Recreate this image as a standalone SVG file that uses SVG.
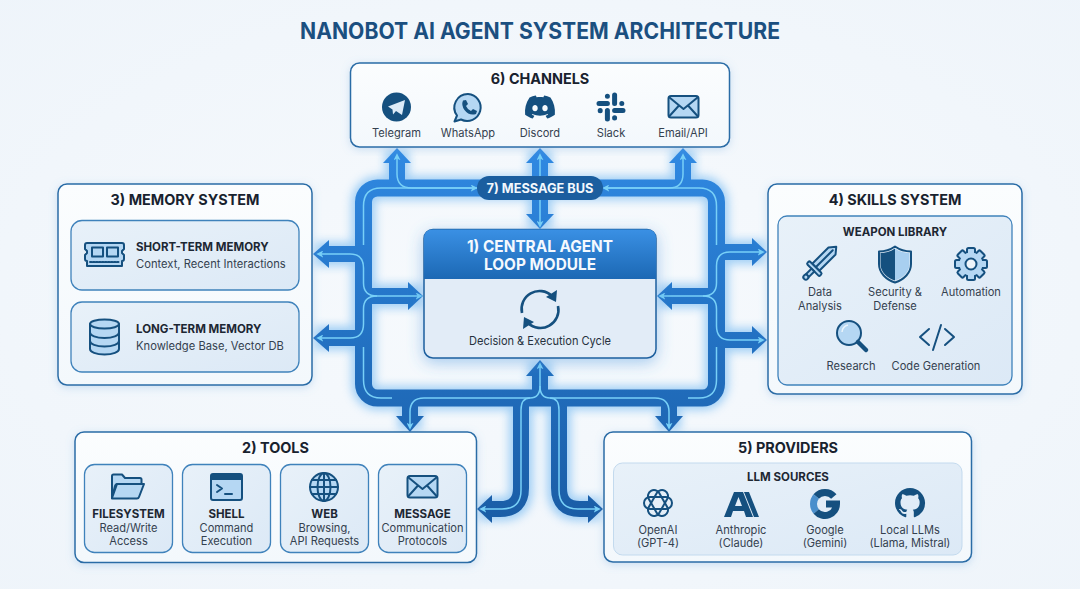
<svg xmlns="http://www.w3.org/2000/svg" xmlns:xlink="http://www.w3.org/1999/xlink" width="1080" height="589" viewBox="0 0 1080 589">
<style>
text{font-family:Inter,"Liberation Sans",sans-serif;text-anchor:middle}
.title{font-size:22.5px;font-weight:700;fill:#1b4f80}
.h{font-size:14.4px;font-weight:700;fill:#18222e}
.b{font-size:11.5px;font-weight:700;fill:#1d2733}
.t{font-size:11.1px;fill:#34414f}
.l{text-anchor:start}
.box{fill:url(#boxFill);stroke:#2a6ca6;stroke-width:1.5;filter:url(#shadow)}
.inner{fill:url(#innerFill);stroke:#3f82bb;stroke-width:1.3}
.ic{fill:#b5d7f3;stroke:#15507f;stroke-width:2;stroke-linejoin:round;stroke-linecap:round}
.in{fill:none;stroke:#15507f;stroke-width:2;stroke-linejoin:round;stroke-linecap:round}
.d{fill:#15507f}
.pipe{fill:none;stroke:url(#flow);stroke-width:16}
.ring{fill:none;stroke:url(#flow);stroke-width:17}
.head{fill:url(#flow)}
.glowline{fill:none;stroke:#4da6ee;stroke-width:24;opacity:.5;filter:url(#glow)}
.lite{fill:none;stroke:#78d0f7;stroke-width:1.5}
.arr{marker-end:url(#tip)}
.arr2{marker-start:url(#tip);marker-end:url(#tip)}
</style>
<defs>
<radialGradient id="bg" cx="50%" cy="50%" r="75%"><stop offset="0" stop-color="#f7fafd"/><stop offset="1" stop-color="#eef4fa"/></radialGradient>
<linearGradient id="boxFill" x1="0" y1="0" x2="0" y2="1"><stop offset="0" stop-color="#fbfdfe"/><stop offset="1" stop-color="#f3f8fc"/></linearGradient>
<linearGradient id="innerFill" x1="0" y1="0" x2="1" y2="1"><stop offset="0" stop-color="#e8f1f9"/><stop offset="1" stop-color="#dce9f6"/></linearGradient>
<linearGradient id="flow" gradientUnits="userSpaceOnUse" x1="0" y1="150" x2="0" y2="520"><stop offset="0" stop-color="#3089e2"/><stop offset=".45" stop-color="#2474c6"/><stop offset="1" stop-color="#1a5da6"/></linearGradient>
<linearGradient id="hdr" x1="0" y1="0" x2="0" y2="1"><stop offset="0" stop-color="#3a90e4"/><stop offset="1" stop-color="#1c68b4"/></linearGradient>
<filter id="shadow" x="-10%" y="-10%" width="120%" height="120%"><feDropShadow dx="0" dy="2" stdDeviation="4" flood-color="#6ba6dc" flood-opacity=".3"/></filter>
<filter id="glow" x="-20%" y="-20%" width="140%" height="140%"><feGaussianBlur stdDeviation="5"/></filter>
<filter id="cshadow" x="-20%" y="-20%" width="140%" height="140%"><feDropShadow dx="0" dy="4" stdDeviation="8" flood-color="#3f8fdc" flood-opacity=".45"/></filter>
<marker id="tip" viewBox="0 0 8 8" refX="6" refY="4" markerWidth="7" markerHeight="7" markerUnits="userSpaceOnUse" orient="auto-start-reverse"><path d="M0 0L8 4L0 8L2 4Z" fill="#78d0f7"/></marker>
<g id="env"><rect class="ic" x="0" y="0" width="30" height="21.5" rx="2.5"/><path class="in" d="M1 1.5L15 13L29 1.5M1 20L10.5 9.5M29 20L19.5 9.5" stroke-width="1.6"/></g>
</defs>
<rect width="1080" height="589" fill="url(#bg)"/>
<text class="title" x="540" y="38.500" textLength="480" lengthAdjust="spacingAndGlyphs">NANOBOT AI AGENT SYSTEM ARCHITECTURE</text>

<g id="connectors">
<g class="glowline">
<rect x="363.5" y="188" width="353" height="210" rx="14"/>
<path d="M397 150V188M683 150V188M540 150V229M410 398V430M669 398V430M540 362V398M315 254H363M315 338H363M363 296H422M716 252H765M716 340H765M716 296H658M521 398V490Q521 509 502 509H479M559 398V490Q559 509 578 509H601"/>
</g>
<rect class="ring" x="363.500" y="188" width="353" height="210" rx="14"/>
<path class="pipe" d="M397 162V188M683 162V188M540 162V214M410 398V417M669 398V417M540 376V398M329 254H364M329 338H364M364 296H408M716 252H752M716 340H752M716 296H672"/>
<path class="pipe" d="M521 398V488Q521 509 500 509H492M559 398V488Q559 509 580 509H588"/>
<polygon class="head" points="397,148 411,163 383,163"/>
<polygon class="head" points="540,148 554,163 526,163"/>
<polygon class="head" points="683,148 697,163 669,163"/>
<polygon class="head" points="540,229 554,214 526,214"/>
<polygon class="head" points="540,360 554,376 526,376"/>
<polygon class="head" points="410,432 424,416 396,416"/>
<polygon class="head" points="669,432 683,416 655,416"/>
<polygon class="head" points="313,254 329,240 329,268"/>
<polygon class="head" points="313,338 329,324 329,352"/>
<polygon class="head" points="423,296 408,282 408,310"/>
<polygon class="head" points="767,252 752,238 752,266"/>
<polygon class="head" points="767,340 752,326 752,354"/>
<polygon class="head" points="657,296 672,282 672,310"/>
<polygon class="head" points="477,509 492,495 492,523"/>
<polygon class="head" points="603,509 588,495 588,523"/>
<g>
<path class="lite arr2" d="M476 188H412Q397 188 397 174V155"/>
<path class="lite arr2" d="M604 188H669Q683 188 683 174V155"/>
<path class="lite arr" d="M540 176V155"/>
<path class="lite arr" d="M540 200V226"/>
<path class="lite" d="M477 188H381Q363.500 188 363.500 206V245"/>
<path class="lite" d="M604 188H699Q716.500 188 716.500 206V245"/>
<path class="lite arr2" d="M318 254H350Q363.500 254 363.500 268V283Q363.500 296 377 296H421"/>
<path class="lite arr" d="M377 296Q363.500 296 363.500 309V324Q363.500 338 350 338H318"/>
<path class="lite arr2" d="M763 252H730Q716.500 252 716.500 266V283Q716.500 296 703 296H660"/>
<path class="lite arr" d="M703 296Q716.500 296 716.500 309V326Q716.500 340 730 340H763"/>
<path class="lite" d="M363.500 347V380Q363.500 398 381 398H392"/>
<path class="lite" d="M716.500 347V380Q716.500 398 699 398H688"/>
<path class="lite arr" d="M540 386V364"/>
<path class="lite arr" d="M540 386Q540 398 530 398H424Q410 398 410 412V428"/>
<path class="lite arr" d="M540 386Q540 398 550 398H655Q669 398 669 412V428"/>
<path class="lite arr" d="M530 398Q521 398 521 410V490Q521 509 502 509H481"/>
<path class="lite arr" d="M550 398Q559 398 559 410V490Q559 509 578 509H599"/>
</g>
</g>

<g id="bus">
<rect x="477" y="176" width="126" height="24" rx="12" fill="#1b5e9f"/>
<text x="540" y="193" font-size="13" font-weight="700" fill="#f2f8fd" textLength="107" lengthAdjust="spacingAndGlyphs">7) MESSAGE BUS</text>
</g>

<g id="central">
<rect x="424" y="229.500" width="232" height="128.500" rx="9" fill="#e2ecf7" stroke="#1e5f9e" stroke-width="1.500" filter="url(#cshadow)"/>
<path d="M424 279V238.500Q424 229.500 433 229.500H647Q656 229.500 656 238.500V279Z" fill="url(#hdr)"/>
<text x="540" y="252" font-size="16" font-weight="700" fill="#f4f9fe" textLength="146" lengthAdjust="spacingAndGlyphs">1) CENTRAL AGENT</text>
<text x="540" y="270" font-size="16" font-weight="700" fill="#f4f9fe" textLength="112" lengthAdjust="spacingAndGlyphs">LOOP MODULE</text>
<path d="M522 313A18 18 0 0 1 552 296M558 306A18 18 0 0 1 528 323" fill="none" stroke="#15507f" stroke-width="2.600"/>
<polygon class="d" points="557,290 556,302 546,297"/>
<polygon class="d" points="523,329 524,317 534,322"/>
<text class="t" x="540" y="345" style="font-size:12px;fill:#26313d" textLength="142" lengthAdjust="spacingAndGlyphs">Decision &amp; Execution Cycle</text>
</g>

<g id="channels">
<rect class="box" x="350.500" y="63" width="379" height="84" rx="9"/>
<text class="h" x="540" y="83.500">6) CHANNELS</text>
<circle class="d" cx="396.500" cy="107" r="14.500"/>
<path d="M388 106.500L405 100L402 115L396 111L393 114.500L392.500 109.500Z" fill="#dcebf8"/>
<path d="M468 94A13.500 13.500 0 1 1 461 119.500L454.500 121.500L457 115.500A13.500 13.500 0 0 1 468 94Z" class="ic"/>
<path d="M463 100.500L466 100L468 104L466 106Q467.500 109.500 471 111L473 109L477 111L476 114Q469 116 464.500 110Q461 105 463 100.500Z" class="d"/>
<path class="d" transform="translate(525 92) scale(1.250)" d="M20.317 4.3698a19.7913 19.7913 0 00-4.8851-1.5152.0741.0741 0 00-.0785.0371c-.211.3753-.4447.8648-.6083 1.2495-1.8447-.2762-3.68-.2762-5.4868 0-.1636-.3933-.4058-.8742-.6177-1.2495a.077.077 0 00-.0785-.037 19.7363 19.7363 0 00-4.8852 1.515.0699.0699 0 00-.0321.0277C.5334 9.0458-.319 13.5799.0992 18.0578a.0824.0824 0 00.0312.0561c2.0528 1.5076 4.0413 2.4228 5.9929 3.0294a.0777.0777 0 00.0842-.0276c.4616-.6304.8731-1.2952 1.226-1.9942a.076.076 0 00-.0416-.1057c-.6528-.2476-1.2743-.5495-1.8722-.8923a.077.077 0 01-.0076-.1277c.1258-.0943.2517-.1923.3718-.2914a.0743.0743 0 01.0776-.0105c3.9278 1.7933 8.18 1.7933 12.0614 0a.0739.0739 0 01.0785.0095c.1202.099.246.1981.3728.2924a.077.077 0 01-.0066.1276 12.2986 12.2986 0 01-1.873.8914.0766.0766 0 00-.0407.1067c.3604.698.7719 1.3628 1.225 1.9932a.076.076 0 00.0842.0286c1.961-.6067 3.9495-1.5219 6.0023-3.0294a.077.077 0 00.0313-.0552c.5004-5.177-.8382-9.6739-3.5485-13.6604a.061.061 0 00-.0312-.0286zM8.02 15.3312c-1.1825 0-2.1569-1.0857-2.1569-2.419 0-1.3332.9555-2.4189 2.157-2.4189 1.2108 0 2.1757 1.0952 2.1568 2.419 0 1.3332-.9555 2.4189-2.1569 2.4189zm7.9748 0c-1.1825 0-2.1569-1.0857-2.1569-2.419 0-1.3332.9554-2.4189 2.1569-2.4189 1.2108 0 2.1757 1.0952 2.1568 2.419 0 1.3332-.946 2.4189-2.1568 2.4189Z"/>
<g fill="none" stroke="#15507f" stroke-width="5" stroke-linecap="round">
<path d="M599 103.400H607.400M614.600 95V103.400M614.600 110.600H623M607.400 110.600V119M607.400 96.200V96.300M621.800 103.400V103.500M614.600 117.800V117.900M600.200 110.600V110.700"/>
</g>
<use xlink:href="#env" href="#env" x="668.500" y="96"/>
<text class="t" x="396.500" y="136.500">Telegram</text>
<text class="t" x="468" y="136.500">WhatsApp</text>
<text class="t" x="540" y="136.500">Discord</text>
<text class="t" x="611" y="136.500">Slack</text>
<text class="t" x="683" y="136.500">Email/API</text>
</g>

<g id="memory">
<rect class="box" x="58" y="184" width="254" height="201" rx="9"/>
<text class="h" x="185" y="205">3) MEMORY SYSTEM</text>
<g id="short-term">
<rect class="inner" x="71" y="220.500" width="228" height="69.500" rx="11"/>
<path class="ic" d="M87 243H122Q124 243 124 245V249L122 251V253L124 255V259Q124 261 122 261V266H87V261Q85 261 85 259V255L87 253V251L85 249V245Q85 243 87 243Z"/>
<rect class="ic" x="92" y="247.500" width="11" height="9" stroke-width="1.500"/>
<rect class="ic" x="107" y="247.500" width="11" height="9" stroke-width="1.500"/>
<path class="in" d="M90 262H120" stroke-width="2.500" stroke-dasharray="1.500 1.500" stroke-linecap="butt"/>
<text class="b l" x="136" y="251">SHORT-TERM MEMORY</text>
<text class="t l" x="136" y="268" style="font-size:11.2px">Context, Recent Interactions</text>
</g>
<g id="long-term">
<rect class="inner" x="71" y="302" width="228" height="70" rx="11"/>
<path class="ic" d="M90 324V349C90 352 96 354.500 104.500 354.500S119 352 119 349V324Z"/>
<ellipse class="ic" cx="104.500" cy="324" rx="14.500" ry="4.500"/>
<path class="in" d="M90 332.500C90 335.500 96 338 104.500 338S119 335.500 119 332.500M90 341C90 344 96 346.500 104.500 346.500S119 344 119 341"/>
<text class="b l" x="136" y="333">LONG-TERM MEMORY</text>
<text class="t l" x="136" y="350" style="font-size:11.2px">Knowledge Base, Vector DB</text>
</g>
</g>

<g id="skills">
<rect class="box" x="768" y="184" width="254" height="210" rx="9"/>
<text class="h" x="895" y="205">4) SKILLS SYSTEM</text>
<rect class="inner" x="778" y="216" width="234" height="169" rx="9"/>
<text class="b" x="895" y="236">WEAPON LIBRARY</text>
<g transform="translate(820 263) rotate(45)">
<path class="ic" d="M0 -23L5 -17V6H-5V-17Z"/>
<path class="in" d="M0 -18V5" stroke-width="1.200"/>
<rect class="ic" x="-9" y="6" width="18" height="4" rx="1.500"/>
<rect class="ic" x="-2" y="10" width="4" height="8"/>
<circle class="ic" cx="0" cy="20" r="2.500"/>
</g>
<path d="M895 248.500C900 252 905 253 909.500 253V264C909.500 272 903 278 895 280.500Z" fill="#a8cff0"/>
<path class="d" d="M895 248.500C890 252 885 253 880.500 253V264C880.500 272 887 278 895 280.500Z"/>
<path class="in" d="M895 246.500C900 250 906 251.500 911 251.500V264C911 273 904 279.500 895 282.500C886 279.500 879 273 879 264V251.500C884 251.500 890 250 895 246.500Z"/>
<g transform="translate(971 264)">
<g fill="#b5d7f3" stroke="#15507f" stroke-width="2" stroke-linejoin="round">
<rect x="-4" y="-16" width="8" height="8" rx="1.500"/>
<rect x="-4" y="-16" width="8" height="8" rx="1.500" transform="rotate(45)"/>
<rect x="-4" y="-16" width="8" height="8" rx="1.500" transform="rotate(90)"/>
<rect x="-4" y="-16" width="8" height="8" rx="1.500" transform="rotate(135)"/>
<rect x="-4" y="-16" width="8" height="8" rx="1.500" transform="rotate(180)"/>
<rect x="-4" y="-16" width="8" height="8" rx="1.500" transform="rotate(225)"/>
<rect x="-4" y="-16" width="8" height="8" rx="1.500" transform="rotate(270)"/>
<rect x="-4" y="-16" width="8" height="8" rx="1.500" transform="rotate(315)"/>
</g>
<circle r="11.500" fill="#b5d7f3"/>
<circle r="5.500" fill="#eef5fb" stroke="#15507f" stroke-width="2"/>
</g>
<text class="t" x="820" y="296">Data</text>
<text class="t" x="820" y="309.500">Analysis</text>
<text class="t" x="895" y="296">Security &amp;</text>
<text class="t" x="895" y="309.500">Defense</text>
<text class="t" x="971" y="296">Automation</text>
<circle class="ic" cx="849" cy="333" r="12"/>
<path d="M858 342L866 350" stroke="#15507f" stroke-width="4.500" stroke-linecap="round"/>
<path d="M842 332A8 8 0 0 1 848 325" fill="none" stroke="#eaf4fb" stroke-width="1.500"/>
<path class="in" d="M929 329L920 337L929 345M945 329L954 337L945 345M941 325L933 350"/>
<text class="t" x="851" y="369.500">Research</text>
<text class="t" x="936" y="369.500">Code Generation</text>
</g>

<g id="tools">
<rect class="box" x="75" y="432" width="401.500" height="130.500" rx="9"/>
<text class="h" x="275.500" y="453">2) TOOLS</text>
<g id="filesystem">
<rect class="inner" x="84.500" y="464.500" width="88" height="88" rx="10"/>
<path class="ic" d="M112 498V476Q112 474.500 113.500 474.500H122L125 478H140Q141.500 478 141.500 479.500V484H117Q115.500 484 115 486L112 498Z"/>
<path class="ic" d="M112 498L117 484H144L139 497Q138.500 498.500 137 498.500H112Z"/>
<text class="b" x="128.500" y="517.500">FILESYSTEM</text>
<text class="t" x="128.500" y="531.500">Read/Write</text>
<text class="t" x="128.500" y="545">Access</text>
</g>
<g id="shell">
<rect class="inner" x="182.500" y="464.500" width="88" height="88" rx="10"/>
<rect class="ic" x="211" y="474" width="31" height="26" rx="2"/>
<path class="d" d="M211 476Q211 474 213 474H240Q242 474 242 476V480H211Z"/>
<path class="in" d="M217 485L222 488.500L217 492M225 494H232" stroke-width="1.600"/>
<text class="b" x="226.500" y="517.500">SHELL</text>
<text class="t" x="226.500" y="531.500">Command</text>
<text class="t" x="226.500" y="545">Execution</text>
</g>
<g id="web">
<rect class="inner" x="280.500" y="464.500" width="88" height="88" rx="10"/>
<circle class="ic" cx="324" cy="487" r="14"/>
<ellipse class="in" cx="324" cy="487" rx="6.500" ry="14" stroke-width="1.500"/>
<path class="in" d="M324 473V501M310 487H338M312 480H336M312 494H336" stroke-width="1.500"/>
<text class="b" x="324.500" y="517.500">WEB</text>
<text class="t" x="324.500" y="531.500">Browsing,</text>
<text class="t" x="324.500" y="545">API Requests</text>
</g>
<g id="message">
<rect class="inner" x="378.500" y="464.500" width="88" height="88" rx="10"/>
<use xlink:href="#env" href="#env" x="407.500" y="476"/>
<text class="b" x="422.500" y="517.500">MESSAGE</text>
<text class="t" x="422.500" y="531.500">Communication</text>
<text class="t" x="422.500" y="545">Protocols</text>
</g>
</g>

<g id="providers">
<rect class="box" x="604" y="432" width="367.500" height="130" rx="9"/>
<text class="h" x="788" y="453">5) PROVIDERS</text>
<rect x="613.500" y="463" width="348.500" height="92" rx="9" fill="url(#innerFill)" stroke="#c3daee" stroke-width="1"/>
<text class="b" x="788" y="480.500">LLM SOURCES</text>
<g fill="none" stroke="#15507f" stroke-width="2">
<rect x="644" y="497" width="28" height="12" rx="6"/>
<rect x="644" y="497" width="28" height="12" rx="6" transform="rotate(60 658 503)"/>
<rect x="644" y="497" width="28" height="12" rx="6" transform="rotate(120 658 503)"/>
</g>
<path class="d" fill-rule="evenodd" d="M724 517L734 492H743L753 517H746L744 511H733L731 517ZM735 506H742L738.500 497Z"/>
<polygon class="d" points="744,492 749,492 759,517 754,517"/>
<path d="M833.800 496.600A11.500 11.500 0 0 0 816.200 496.600" fill="none" stroke="#15507f" stroke-width="7"/>
<path d="M816.200 496.600A11.500 11.500 0 0 0 816.200 511.400" fill="none" stroke="#4a8fcc" stroke-width="7"/>
<path d="M816.200 511.400A11.500 11.500 0 0 0 836.500 504H826" fill="none" stroke="#15507f" stroke-width="7"/>
<path class="d" transform="translate(895 488) scale(1.880)" d="M8 0C3.58 0 0 3.58 0 8c0 3.54 2.29 6.53 5.47 7.59.4.07.55-.17.55-.38 0-.19-.01-.82-.01-1.49-2.01.37-2.53-.49-2.69-.94-.09-.23-.48-.94-.82-1.13-.28-.15-.68-.52-.01-.53.63-.01 1.08.58 1.23.82.72 1.21 1.87.87 2.33.66.07-.52.28-.87.51-1.07-1.78-.2-3.64-.89-3.64-3.95 0-.87.31-1.59.82-2.15-.08-.2-.36-1.02.08-2.12 0 0 .67-.21 2.2.82.64-.18 1.32-.27 2-.27.68 0 1.36.09 2 .27 1.53-1.04 2.2-.82 2.2-.82.44 1.1.16 1.92.08 2.12.51.56.82 1.27.82 2.15 0 3.07-1.87 3.75-3.65 3.95.29.25.54.73.54 1.48 0 1.07-.01 1.93-.01 2.2 0 .21.15.46.55.38A8.013 8.013 0 0016 8c0-4.42-3.58-8-8-8z"/>
<text class="t" x="658" y="534">OpenAI</text>
<text class="t" x="658" y="547">(GPT-4)</text>
<text class="t" x="741" y="534">Anthropic</text>
<text class="t" x="741" y="547">(Claude)</text>
<text class="t" x="825" y="534">Google</text>
<text class="t" x="825" y="547">(Gemini)</text>
<text class="t" x="910" y="534">Local LLMs</text>
<text class="t" x="910" y="547">(Llama, Mistral)</text>
</g>
</svg>
